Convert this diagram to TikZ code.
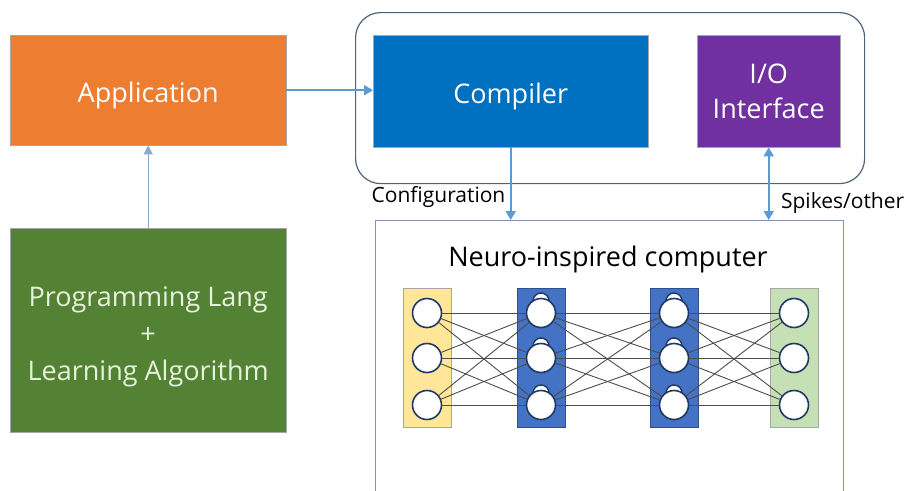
\documentclass[tikz,border=0pt]{standalone}
\usepackage{fontspec}
\setmainfont{Open Sans}
\usepackage{xcolor}
\usetikzlibrary{arrows.meta,positioning}

\definecolor{apporange}{HTML}{ED7D31}
\definecolor{proggreen}{HTML}{548235}
\definecolor{progtext}{HTML}{E6F2DC}
\definecolor{compblue}{HTML}{0070C0}
\definecolor{iopurple}{HTML}{7030A0}
\definecolor{flowblue}{HTML}{5B9BD5}
\definecolor{thinblue}{HTML}{8EA9C8}
\definecolor{framegray}{HTML}{4F6378}
\definecolor{boxgray}{HTML}{8497B0}
\definecolor{inyellow}{HTML}{FFE699}
\definecolor{hidblue}{HTML}{4472C4}
\definecolor{outgreen}{HTML}{C5E0B4}
\definecolor{cellnavy}{HTML}{203864}

\begin{document}
\begin{tikzpicture}[x=1pt,y=-1pt,
  block/.style={draw=gray!70,anchor=north west,text=white,align=center,
    font=\fontsize{27}{37}\selectfont},
  flow/.style={draw=flowblue,line width=2pt,-{Triangle[length=9pt,width=10pt]}},
  label/.style={font=\fontsize{21}{24}\selectfont},
  layer/.style={draw=gray!70,line width=1pt,minimum width=48,minimum height=139,inner sep=0pt},
  neuron/.style={circle,draw=cellnavy,line width=1.6pt,fill=white,minimum size=29,inner sep=0pt},
  synapse/.style={draw=black!70,line width=0.9pt}]
\useasboundingbox (0,0) rectangle (912,490);

% host side
\node[block,fill=apporange,minimum width=276,minimum height=110,
  text height=24pt,text depth=0pt] (app) at (10,35) {Application};
\node[block,fill=proggreen,text=progtext,minimum width=276,minimum height=204,
  text height=108pt] (prog) at (10,228)
  {Programming Lang\\+\\Learning Algorithm};
\node[draw=framegray,line width=1.2pt,rounded corners=25,anchor=north west,
  minimum width=509,minimum height=171] (tools) at (355,12) {};
\node[block,fill=compblue,minimum width=275,minimum height=112,
  text height=24pt,text depth=0pt] (comp) at (373,35) {Compiler};
\node[block,fill=iopurple,minimum width=143,minimum height=112,
  font=\fontsize{27}{35}\selectfont] (io) at (697,35) {I/O\\Interface};

% hardware
\node[draw=boxgray,line width=1.2pt,anchor=north west,minimum width=468,minimum height=285] (neuro) at (375,220) {};
\node[font=\fontsize{27}{30}\selectfont] (title) at (608,259) {Neuro-inspired computer};

\node[layer,fill=inyellow] (L1) at (427,357.5) {};
\node[layer,fill=hidblue,draw=hidblue!70!black] (L2) at (541,357.5) {};
\node[layer,fill=hidblue,draw=hidblue!70!black] (L3) at (674,357.5) {};
\node[layer,fill=outgreen] (L4) at (794,357.5) {};

\foreach \c/\x in {2/541,3/674}
  \foreach \y in {313,358,405}
    \draw[cellnavy,line width=1.4pt,fill=white] (\x,\y-12) circle (8);

\foreach \c/\x in {1/427,2/541,3/674,4/794}
  \foreach \r/\y in {1/313,2/358,3/405}
    \node[neuron] (n\c\r) at (\x,\y) {};

\foreach \a/\b in {1/2,2/3,3/4}
  \foreach \i in {1,2,3}
    \foreach \j in {1,2,3}
      \draw[synapse] (n\a\i) -- (n\b\j);

% connectors
\draw[draw=thinblue,line width=1.2pt,-{Triangle[length=9pt,width=9pt]}] (prog.north) -- (app.south);
\draw[flow] (app.east) -- (app.east -| comp.west);
\draw[flow] (comp.south) -- (comp.south |- neuro.north)
  node[label,pos=0.68,left=1pt] {Configuration};
\draw[flow,{Triangle[length=9pt,width=10pt]}-{Triangle[length=9pt,width=10pt]}]
  (io.south) -- (io.south |- neuro.north)
  node[label,pos=0.77,right=8pt] {Spikes/other};
\end{tikzpicture}
\end{document}
